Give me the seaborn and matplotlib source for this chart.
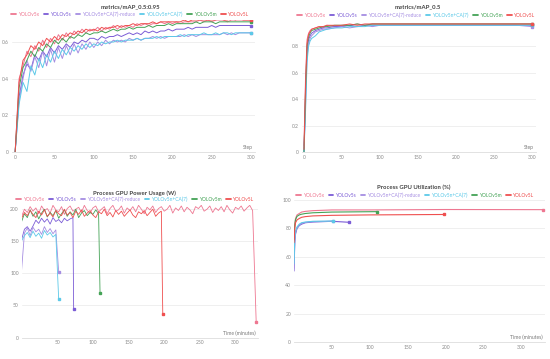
import matplotlib
matplotlib.use("Agg")
import matplotlib.pyplot as plt
import numpy as np
import pandas as pd
import seaborn as sns

runs = ["YOLOv5x", "YOLOv5s", "YOLOv5n+CA(7)-reduce", "YOLOv5n+CA(7)", "YOLOv5m", "YOLOv5L"]
colors = ["#ee7791", "#7b5cd6", "#a58de2", "#5cc9e8", "#44a356", "#ef4f4f"]

# metrics/mAP_0.5:0.95, sampled every 5 steps
map95_steps = np.arange(0, 301, 5)
map95 = {
    "YOLOv5x": [0.00, 0.40, 0.47, 0.55, 0.52, 0.58, 0.55, 0.61, 0.57, 0.62,
                0.59, 0.64, 0.61, 0.65, 0.62, 0.66, 0.64, 0.67, 0.65, 0.67,
                0.66, 0.68, 0.66, 0.68, 0.67, 0.69, 0.67, 0.69, 0.68, 0.69,
                0.68, 0.70, 0.69, 0.70, 0.69, 0.70, 0.70, 0.71, 0.70, 0.71,
                0.70, 0.71, 0.70, 0.71, 0.71, 0.71, 0.71, 0.72, 0.71, 0.72,
                0.71, 0.72, 0.72, 0.72, 0.71, 0.72, 0.72, 0.72, 0.72, 0.72,
                0.72],
    "YOLOv5s": [0.00, 0.30, 0.42, 0.48, 0.45, 0.53, 0.50, 0.55, 0.52, 0.57,
                0.54, 0.58, 0.56, 0.59, 0.57, 0.60, 0.59, 0.61, 0.60, 0.62,
                0.62, 0.61, 0.63, 0.62, 0.63, 0.63, 0.64, 0.63, 0.64, 0.65,
                0.64, 0.65, 0.64, 0.66, 0.65, 0.66, 0.65, 0.66, 0.66, 0.67,
                0.66, 0.67, 0.67, 0.67, 0.68, 0.67, 0.68, 0.68, 0.68, 0.68,
                0.69, 0.68, 0.69, 0.69, 0.69, 0.69, 0.69, 0.69, 0.69, 0.69,
                0.69],
    "YOLOv5n+CA(7)-reduce": [0.00, 0.28, 0.40, 0.50, 0.44, 0.52, 0.46, 0.55, 0.47, 0.56,
                             0.49, 0.57, 0.51, 0.58, 0.53, 0.59, 0.54, 0.59, 0.56, 0.60,
                             0.57, 0.60, 0.58, 0.61, 0.59, 0.61, 0.60, 0.61, 0.60, 0.62,
                             0.61, 0.62, 0.61, 0.62, 0.62, 0.63, 0.62, 0.63, 0.62, 0.63,
                             0.63, 0.63, 0.63, 0.64, 0.63, 0.64, 0.63, 0.64, 0.64, 0.64,
                             0.64, 0.64, 0.64, 0.65, 0.64, 0.65, 0.64, 0.65, 0.65, 0.65,
                             0.65],
    "YOLOv5n+CA(7)": [0.00, 0.26, 0.38, 0.33, 0.47, 0.42, 0.51, 0.46, 0.53, 0.49,
                      0.55, 0.51, 0.56, 0.53, 0.57, 0.55, 0.58, 0.56, 0.59, 0.57,
                      0.59, 0.58, 0.60, 0.59, 0.60, 0.60, 0.61, 0.60, 0.61, 0.61,
                      0.61, 0.62, 0.61, 0.62, 0.62, 0.62, 0.63, 0.62, 0.63, 0.63,
                      0.63, 0.63, 0.64, 0.63, 0.64, 0.64, 0.64, 0.64, 0.65, 0.64,
                      0.64, 0.65, 0.64, 0.65, 0.65, 0.64, 0.65, 0.65, 0.65, 0.65,
                      0.65],
    "YOLOv5m": [0.00, 0.35, 0.46, 0.50, 0.55, 0.52, 0.57, 0.55, 0.59, 0.57,
                0.61, 0.59, 0.62, 0.60, 0.63, 0.62, 0.64, 0.63, 0.65, 0.64,
                0.65, 0.65, 0.66, 0.65, 0.66, 0.67, 0.66, 0.67, 0.67, 0.68,
                0.67, 0.68, 0.68, 0.68, 0.69, 0.68, 0.69, 0.69, 0.69, 0.70,
                0.69, 0.70, 0.70, 0.70, 0.70, 0.70, 0.71, 0.70, 0.71, 0.71,
                0.71, 0.70, 0.71, 0.71, 0.71, 0.71, 0.71, 0.71, 0.71, 0.71,
                0.71],
    "YOLOv5L": [0.00, 0.38, 0.50, 0.53, 0.58, 0.56, 0.60, 0.58, 0.62, 0.60,
                0.63, 0.61, 0.64, 0.63, 0.65, 0.64, 0.66, 0.65, 0.67, 0.66,
                0.67, 0.66, 0.68, 0.67, 0.68, 0.68, 0.69, 0.68, 0.69, 0.69,
                0.70, 0.69, 0.70, 0.70, 0.70, 0.71, 0.70, 0.71, 0.71, 0.71,
                0.71, 0.71, 0.71, 0.72, 0.71, 0.72, 0.72, 0.72, 0.72, 0.72,
                0.72, 0.72, 0.73, 0.72, 0.72, 0.73, 0.72, 0.73, 0.72, 0.72,
                0.72],
}

# metrics/mAP_0.5
map50_steps = [0, 2, 4, 6, 8, 10, 15, 20, 25, 30, 40, 50, 60, 70, 80, 90, 100,
               120, 140, 160, 180, 200, 220, 240, 260, 280, 300]
map50 = {
    "YOLOv5x": [0.05, 0.55, 0.85, 0.90, 0.92, 0.93, 0.94, 0.95, 0.94, 0.96, 0.95, 0.96, 0.96, 0.97,
                0.96, 0.97, 0.97, 0.97, 0.97, 0.97, 0.97, 0.97, 0.97, 0.97, 0.97, 0.97, 0.97],
    "YOLOv5s": [0.00, 0.40, 0.76, 0.85, 0.88, 0.90, 0.92, 0.93, 0.94, 0.94, 0.95, 0.95, 0.96, 0.95,
                0.96, 0.96, 0.96, 0.96, 0.96, 0.96, 0.96, 0.96, 0.96, 0.96, 0.96, 0.96, 0.96],
    "YOLOv5n+CA(7)-reduce": [0.00, 0.35, 0.72, 0.82, 0.86, 0.88, 0.91, 0.92, 0.93, 0.93, 0.94, 0.95,
                             0.94, 0.95, 0.96, 0.95, 0.96, 0.96, 0.96, 0.96, 0.96, 0.96, 0.96,
                             0.96, 0.96, 0.96, 0.95],
    "YOLOv5n+CA(7)": [0.00, 0.30, 0.68, 0.80, 0.84, 0.86, 0.88, 0.91, 0.92, 0.93, 0.94, 0.94, 0.95,
                      0.95, 0.95, 0.96, 0.96, 0.96, 0.96, 0.96, 0.96, 0.96, 0.96, 0.96, 0.96,
                      0.96, 0.96],
    "YOLOv5m": [0.00, 0.45, 0.80, 0.87, 0.90, 0.92, 0.93, 0.94, 0.95, 0.95, 0.96, 0.96, 0.96, 0.97,
                0.96, 0.97, 0.97, 0.97, 0.97, 0.97, 0.97, 0.97, 0.97, 0.97, 0.97, 0.97, 0.97],
    "YOLOv5L": [0.02, 0.50, 0.82, 0.89, 0.91, 0.93, 0.94, 0.95, 0.95, 0.96, 0.96, 0.96, 0.97, 0.96,
                0.97, 0.97, 0.97, 0.97, 0.97, 0.97, 0.97, 0.97, 0.97, 0.97, 0.97, 0.97, 0.97],
}

# Process GPU Power Usage (W), every 4 minutes, then the final drop
power_end_time = {"YOLOv5x": 329, "YOLOv5s": 73, "YOLOv5n+CA(7)-reduce": 52,
                  "YOLOv5n+CA(7)": 52, "YOLOv5m": 110, "YOLOv5L": 198}
power_end_value = {"YOLOv5x": 25, "YOLOv5s": 44, "YOLOv5n+CA(7)-reduce": 102,
                   "YOLOv5n+CA(7)": 60, "YOLOv5m": 70, "YOLOv5L": 37}
power = {
    "YOLOv5x": [188, 199, 194, 203, 196, 201, 192, 204, 197, 200,
                193, 205, 198, 195, 203, 191, 200, 204, 196, 199,
                202, 194, 205, 197, 193, 201, 204, 195, 199, 203,
                192, 200, 205, 196, 198, 204, 193, 201, 197, 203,
                195, 205, 199, 192, 202, 198, 204, 194, 200, 203,
                196, 199, 205, 193, 201, 197, 204, 195, 202, 198,
                192, 203, 200, 205, 196, 199, 204, 194, 201, 197,
                203, 195, 205, 198, 193, 202, 199, 204, 196, 201,
                205, 197],
    "YOLOv5s": [152, 168, 172, 165, 173, 182, 177, 185, 179, 184,
                176, 186, 180, 183, 178, 185, 181, 184, 186],
    "YOLOv5n+CA(7)-reduce": [105, 162, 170, 158, 171, 164, 168, 160, 172, 163, 169, 161, 167],
    "YOLOv5n+CA(7)": [150, 158, 163, 155, 165, 157, 162, 154, 166, 159, 163, 156, 160],
    "YOLOv5m": [180, 192, 186, 198, 188, 195, 184, 193, 199, 187,
                194, 189, 197, 185, 192, 198, 188, 195, 190, 199,
                186, 193, 197, 189, 194, 191, 198, 192],
    "YOLOv5L": [185, 194, 189, 197, 191, 186, 196, 190, 198, 188,
                193, 187, 197, 192, 189, 199, 190, 194, 186, 196,
                191, 198, 188, 193, 197, 190, 186, 195, 192, 199,
                189, 194, 187, 197, 191, 196, 188, 193, 198, 190,
                186, 195, 192, 197, 189, 194, 199, 188, 193, 196],
}

# Process GPU Utilization (%)
util_time = {
    "YOLOv5x": [0, 1, 2, 4, 7, 10, 15, 25, 50, 100, 200, 329],
    "YOLOv5s": [0, 1, 2, 4, 7, 10, 15, 25, 50, 73],
    "YOLOv5n+CA(7)-reduce": [0, 1, 2, 4, 7, 10, 15, 25, 52],
    "YOLOv5n+CA(7)": [0, 1, 2, 4, 7, 10, 15, 25, 52],
    "YOLOv5m": [0, 1, 2, 4, 7, 10, 15, 25, 50, 110],
    "YOLOv5L": [0, 1, 2, 4, 7, 10, 15, 25, 50, 100, 198],
}
util = {
    "YOLOv5x": [75, 83, 87, 89.5, 90.5, 91.5, 92, 92.5, 93, 93, 93.3, 93.2],
    "YOLOv5s": [50, 70, 76, 80, 82, 83, 84, 84.5, 85, 84.3],
    "YOLOv5n+CA(7)-reduce": [52, 72, 77, 80.5, 82.5, 83.5, 84.2, 84.8, 85],
    "YOLOv5n+CA(7)": [55, 73, 78, 81, 83, 84, 84.5, 85, 85.2],
    "YOLOv5m": [72, 82, 86, 88.5, 89.5, 90, 90.5, 91, 91.5, 91.8],
    "YOLOv5L": [70, 80, 84, 86, 87, 87.8, 88.3, 88.8, 89.2, 89.5, 89.8],
}

sns.set_theme(style="white")
plt.rcParams["font.family"] = ["Lato", "DejaVu Sans"]
palette = dict(zip(runs, colors))
TICK_C = "#8a8a8a"


def long_df(xs, ys):
    rows = []
    for run in runs:
        x = xs[run] if isinstance(xs, dict) else xs
        for a, b in zip(x, ys[run]):
            rows.append((run, a, b))
    return pd.DataFrame(rows, columns=["run", "x", "y"])


def draw(ax, df, lw=0.7):
    sns.lineplot(data=df, x="x", y="y", hue="run", hue_order=runs, palette=palette,
                 estimator=None, sort=False, linewidth=lw, legend=False, ax=ax)
    for run in runs:
        last = df[df.run == run].iloc[-1]
        ax.plot(last.x, last.y, "s", ms=1.6, color=palette[run])


def style(ax, title, title_xy, leg_xy, xlabel):
    ax.grid(axis="y", color="#ececec", linewidth=0.6)
    ax.grid(axis="x", visible=False)
    for s in ["top", "right", "left"]:
        ax.spines[s].set_visible(False)
    ax.spines["bottom"].set_color("#dddddd")
    ax.spines["bottom"].set_linewidth(0.6)
    ax.tick_params(axis="both", length=0, labelsize=3.6, colors=TICK_C, pad=2)
    ax.set_xlabel("")
    ax.set_ylabel("")
    ax.text(0.99, 0.015, xlabel, transform=ax.transAxes, ha="right", va="bottom",
            fontsize=3.6, color="#777777")
    fig.text(title_xy[0] / 550, 1 - title_xy[1] / 359, title, ha="center", va="center",
             fontsize=4.3, fontweight="bold", color="#444444")
    handles = [plt.Line2D([], [], color=c, lw=1.3) for c in colors]
    leg = fig.legend(handles, runs, loc="center", ncol=6, frameon=False,
                     bbox_to_anchor=(leg_xy[0] / 550, 1 - leg_xy[1] / 359),
                     fontsize=3.5, handlelength=0.9, handletextpad=0.4, columnspacing=1.0,
                     borderpad=0, borderaxespad=0, labelcolor="linecolor")
    return leg


fig = plt.figure(figsize=(5.5, 3.59), dpi=100)

ax1 = fig.add_axes([12 / 550, 1 - 152 / 359, 243 / 550, 132 / 359])
draw(ax1, long_df(map95_steps, map95))
ax1.set_xlim(-4, 305)
ax1.set_ylim(0, 0.72)
ax1.set_xticks([0, 50, 100, 150, 200, 250, 300])
ax1.set_yticks([0, 0.2, 0.4, 0.6])
ax1.set_yticklabels(["0", "0.2", "0.4", "0.6"])
style(ax1, "metrics/mAP_0.5:0.95", (130, 6.5), (130, 14.5), "Step")

ax2 = fig.add_axes([302 / 550, 1 - 152 / 359, 234 / 550, 132 / 359])
draw(ax2, long_df(map50_steps, map50))
ax2.set_xlim(-2.6, 305)
ax2.set_ylim(0, 1.0)
ax2.set_xticks([0, 50, 100, 150, 200, 250, 300])
ax2.set_yticks([0, 0.2, 0.4, 0.6, 0.8])
ax2.set_yticklabels(["0", "0.2", "0.4", "0.6", "0.8"])
style(ax2, "metrics/mAP_0.5", (418, 7), (416, 15.5), "Step")

power_time = {}
power_full = {}
for run in runs:
    n = len(power[run])
    power_time[run] = list(np.arange(n) * 4) + [power_end_time[run]]
    power_full[run] = power[run] + [power_end_value[run]]

ax3 = fig.add_axes([21.6 / 550, 1 - 337.7 / 359, 236 / 550, 133 / 359])
draw(ax3, long_df(power_time, power_full), lw=0.6)
ax3.set_xlim(0, 331)
ax3.set_ylim(0, 206)
ax3.set_xticks([50, 100, 150, 200, 250, 300])
ax3.set_yticks([0, 50, 100, 150, 200])
style(ax3, "Process GPU Power Usage (W)", (134, 193), (135, 199), "Time (minutes)")

ax4 = fig.add_axes([294 / 550, 1 - 342 / 359, 251 / 550, 142 / 359])
draw(ax4, long_df(util_time, util), lw=0.8)
ax4.set_xlim(0, 331)
ax4.set_ylim(0, 100)
ax4.set_xticks([50, 100, 150, 200, 250, 300])
ax4.set_yticks([0, 20, 40, 60, 80, 100])
style(ax4, "Process GPU Utilization (%)", (414, 187), (415, 195.5), "Time (minutes)")

fig.savefig("out.png", dpi=100)
